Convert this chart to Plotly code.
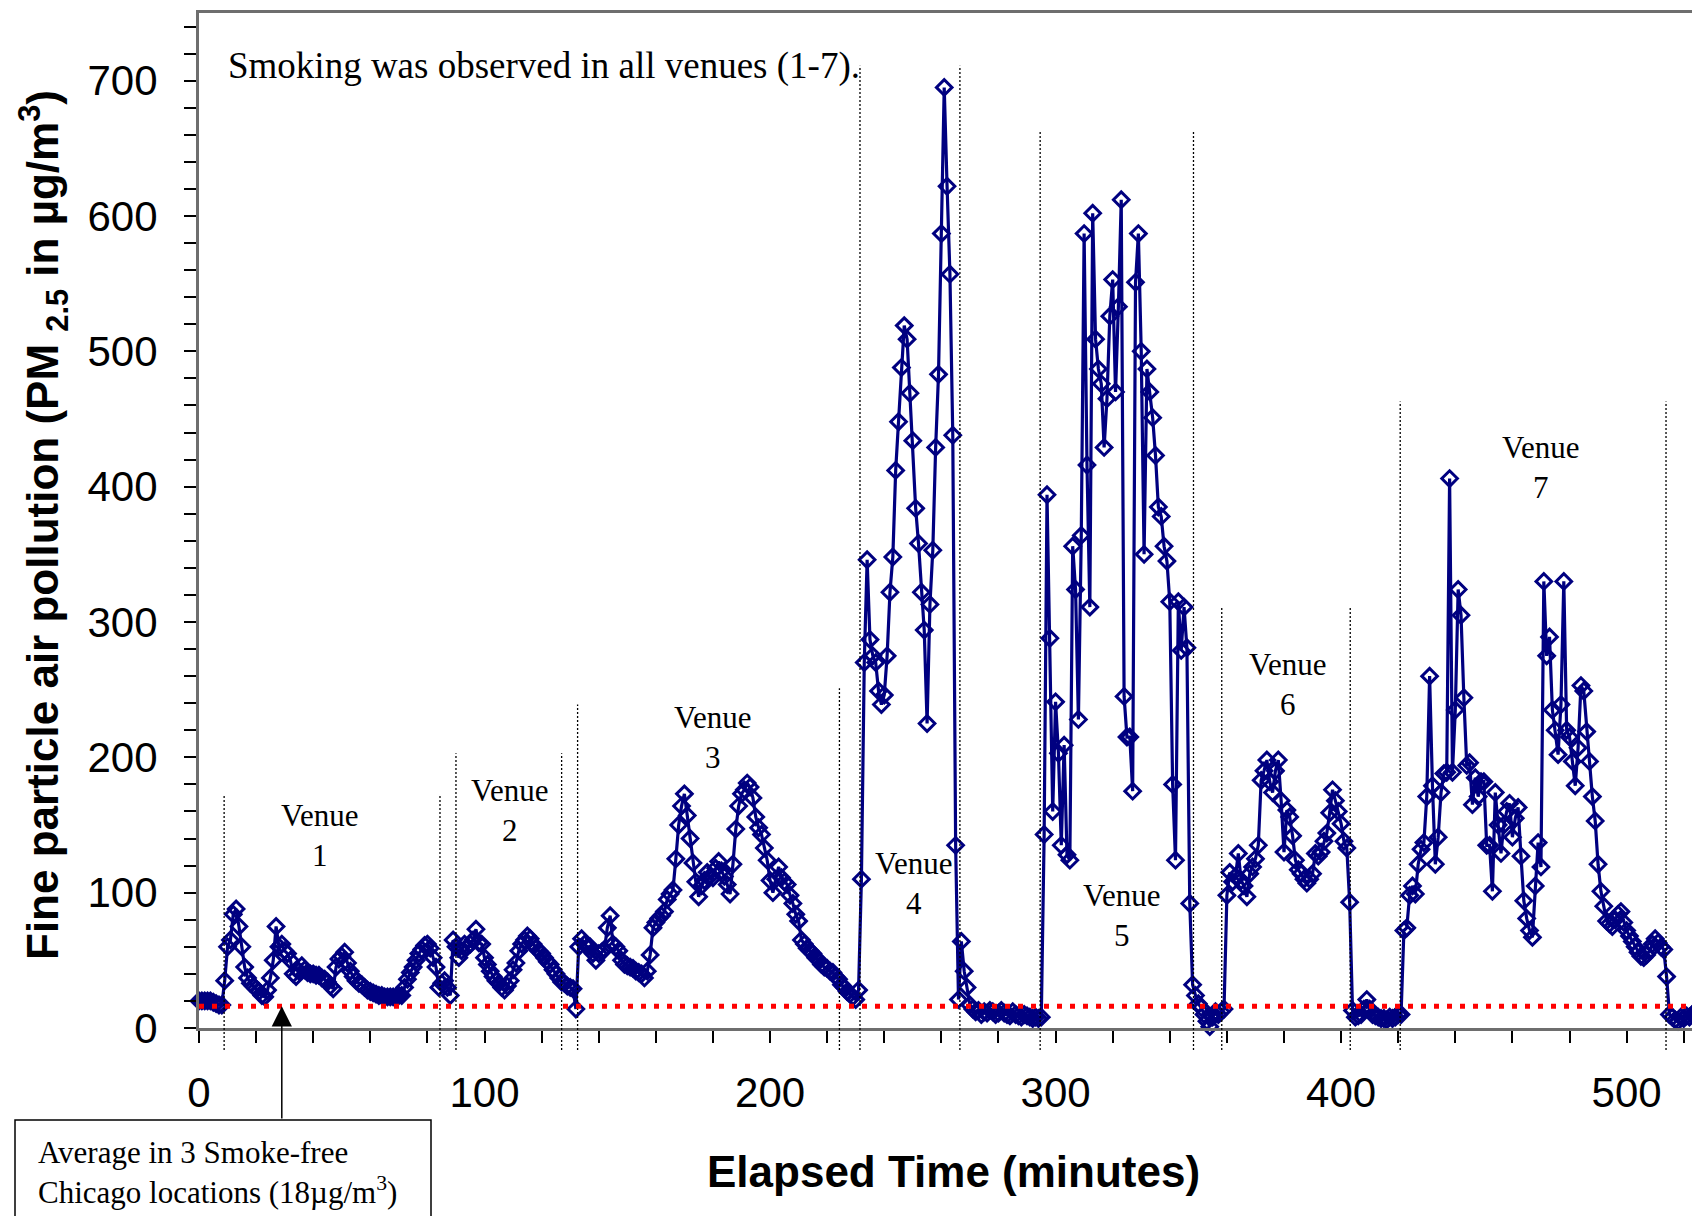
import plotly.graph_objects as go

# ---------------- data (PM2.5, one reading per minute) ----------------
pre_start = 0
pre_values = [20, 20, 20, 20, 20, 19, 18, 17, 17]

venue1_start = 9
venue1_values = [35, 60, 65, 84, 88, 75, 60, 45, 37, 33,
                 31, 29, 27, 24, 23, 28, 37, 50, 75, 60,
                 62, 57, 55, 50, 40, 38, 42, 46, 43, 41,
                 40, 40, 39, 39, 37, 36, 34, 31, 29, 45,
                 51, 53, 56, 48, 42, 38, 35, 33, 32, 30,
                 28, 27, 26, 25, 24, 24, 23, 23, 23, 23,
                 23, 24, 24, 30, 36, 41, 45, 50, 55, 58,
                 61, 62, 59, 52, 45, 30, 33, 35, 30, 24]

venue2_start = 89
venue2_values = [65, 60, 52, 57, 62, 60, 62, 65, 73, 63,
                 62, 52, 47, 42, 38, 35, 33, 30, 28, 31,
                 35, 43, 48, 57, 62, 65, 68, 66, 62, 59,
                 57, 55, 52, 49, 47, 43, 40, 37, 34, 33,
                 31, 30, 29]

venue3_start = 132
venue3_values = [14, 60, 66, 62, 60, 60, 55, 50, 55, 56,
                 58, 74, 83, 62, 60, 57, 50, 47, 46, 45,
                 44, 42, 41, 40, 37, 42, 54, 74, 78, 81,
                 83, 86, 95, 99, 102, 125, 150, 164, 173, 157,
                 140, 122, 108, 97, 105, 109, 115, 112, 111, 118,
                 123, 116, 112, 106, 99, 121, 147, 164, 173, 176,
                 181, 178, 170, 156, 148, 143, 133, 124, 109, 100,
                 110, 119, 111, 108, 106, 98, 92, 84, 79, 65,
                 62, 59, 57, 55, 52, 50, 47, 45, 44, 42,
                 41, 38, 36, 32, 30, 27, 25, 23, 21, 28]

venue4_start = 232
venue4_values = [110, 270, 346, 287, 275, 270, 249, 239, 246, 275,
                 322, 348, 412, 448, 488, 519, 509, 469, 434, 384,
                 358, 322, 294, 225, 313, 353, 429, 483, 587, 695,
                 622, 557, 438, 135, 21, 64, 42, 30]

gap4_start = 270
gap4_values = [17, 14, 12, 13, 10, 12, 11, 13, 12, 10,
               11, 13, 11, 10, 9, 12, 10, 9, 8, 10,
               9, 8, 7, 8, 7, 8]

venue5_start = 296
venue5_values = [143, 394, 288, 160, 241, 203, 135, 209, 128, 124,
                 356, 324, 228, 364, 587, 416, 311, 602, 509, 487,
                 476, 429, 465, 526, 553, 470, 533, 612, 245, 215,
                 215, 175, 551, 587, 500, 350, 487, 470, 451, 423,
                 385, 378, 356, 345, 315, 180, 124, 315, 279, 311,
                 281, 92, 32, 24, 18, 15, 10, 5, 1, 8,
                 12, 10, 12, 14]

venue6_start = 360
venue6_values = [98, 115, 108, 112, 129, 109, 105, 97, 114, 119,
                 125, 135, 183, 190, 198, 182, 174, 190, 198, 168,
                 130, 161, 156, 142, 124, 117, 114, 110, 107, 110,
                 114, 129, 127, 130, 138, 144, 159, 176, 168, 160,
                 151, 138, 133, 93, 13, 8, 9, 10, 14, 21,
                 14, 10, 9, 8, 7, 7, 6, 8, 7, 8,
                 10]

venue7_start = 421
venue7_values = [10, 72, 74, 98, 105, 99, 121, 132, 137, 171,
                 260, 179, 121, 141, 174, 188, 189, 406, 189, 235,
                 324, 305, 244, 194, 196, 165, 185, 171, 182, 182,
                 135, 135, 101, 174, 150, 129, 150, 160, 166, 141,
                 155, 163, 127, 94, 81, 72, 67, 105, 137, 119,
                 330, 275, 289, 235, 220, 202, 239, 330, 220, 215,
                 197, 179, 207, 253, 249, 219, 197, 171, 153, 121,
                 101, 90, 79, 77, 75, 80, 84, 86, 78, 72,
                 68, 64, 60, 56, 53, 52, 54, 57, 62, 66,
                 63, 60, 58, 38, 10, 8, 6, 5, 8, 7,
                 9, 8, 10, 12, 12]

smoke_free_avg_line = 16          # level where the red dotted reference line is drawn
arrow_minute = 29

# venue boundary lines: (minute, top of dotted line in µg/m3)
boundary_minutes = [8.8, 84.4, 90.0, 127.0, 132.6, 224.3, 231.5, 266.5,
                    294.6, 348.3, 358.2, 403.2, 420.7, 513.8]
boundary_tops = [172, 172, 203, 203, 239, 251, 711, 711,
                 663, 663, 311, 311, 463, 463]

# venue labels: number, minute, level
venue_numbers = ["1", "2", "3", "4", "5", "6", "7"]
venue_label_minutes = [42.2, 108.7, 179.8, 250.2, 323.2, 381.4, 470.0]
venue_label_levels = [142, 161, 215, 107, 83, 254, 414]

x_ticks = [0, 100, 200, 300, 400, 500]
y_ticks = [0, 100, 200, 300, 400, 500, 600, 700]

# ---------------- build series ----------------
segments = [(pre_start, pre_values), (venue1_start, venue1_values),
            (venue2_start, venue2_values), (venue3_start, venue3_values),
            (venue4_start, venue4_values), (gap4_start, gap4_values),
            (venue5_start, venue5_values), (venue6_start, venue6_values),
            (venue7_start, venue7_values)]
minutes, pm25 = [], []
for start, vals in segments:
    for i, v in enumerate(vals):
        minutes.append(start + i)
        pm25.append(v)

# ---------------- layout geometry ----------------
# the page body has an 8px margin, so the figure is drawn 8px smaller and
# every target pixel position (window coordinates) is shifted by that offset
OFF = 8
W, H = 1700 - OFF, 1216 - OFF
PL, PR, PT, PB = 199 - OFF, 1700 - OFF, 13 - OFF, 1028 - OFF
X_MAX = 525.7
Y_MAX = 750


def paper_x(px):
    return (px - OFF - PL) / (PR - PL)


def paper_y(py):
    return (PB - (py - OFF)) / (PB - PT)


NAVY = "#000080"
SERIF = "Liberation Serif, Times New Roman, serif"
SANS = "Liberation Sans, Arial, sans-serif"

fig = go.Figure()
fig.add_trace(go.Scatter(
    x=minutes, y=pm25, mode="lines+markers",
    line=dict(color=NAVY, width=3.2),
    marker=dict(symbol="diamond-open", size=12, color=NAVY, line=dict(width=3, color=NAVY)),
    showlegend=False, cliponaxis=False,
))

shapes = []
for t, top in zip(boundary_minutes, boundary_tops):
    shapes.append(dict(type="line", xref="x", yref="paper",
                       x0=t, x1=t, y0=paper_y(1050), y1=top / Y_MAX,
                       line=dict(color="black", width=1.3, dash="2px,2px"), layer="above"))
# red smoke-free average line
shapes.append(dict(type="line", xref="x", yref="y", x0=0, x1=X_MAX,
                   y0=smoke_free_avg_line, y1=smoke_free_avg_line,
                   line=dict(color="#ff0000", width=5, dash="5px,8px"), layer="above"))
# callout box
shapes.append(dict(type="rect", xref="paper", yref="paper",
                   x0=paper_x(15), x1=paper_x(431), y0=paper_y(1300), y1=paper_y(1120),
                   line=dict(color="black", width=1.5), fillcolor="white", layer="above"))

annotations = []
for num, t, lv in zip(venue_numbers, venue_label_minutes, venue_label_levels):
    annotations.append(dict(x=t, y=lv, xref="x", yref="y", text="Venue<br>" + num,
                            showarrow=False, font=dict(family=SERIF, size=31, color="black"),
                            xanchor="center", yanchor="middle", align="center"))
annotations.append(dict(x=9.5, y=711, xref="x", yref="y",
                        text="Smoking was observed in all venues (1-7).",
                        showarrow=False, font=dict(family=SERIF, size=37, color="black"),
                        xanchor="left", yanchor="middle"))
annotations.append(dict(x=paper_x(36), y=paper_y(1172), xref="paper", yref="paper",
                        text="Average in 3 Smoke-free<br>Chicago locations (18µg/m<sup>3</sup>)",
                        showarrow=False, font=dict(family=SERIF, size=31, color="black"),
                        xanchor="left", yanchor="middle", align="left"))
tip_py = PB - smoke_free_avg_line * (PB - PT) / Y_MAX + OFF
annotations.append(dict(x=arrow_minute, y=smoke_free_avg_line, xref="x", yref="y", text="",
                        showarrow=True, arrowhead=2, arrowsize=2.7, arrowwidth=1.5,
                        arrowcolor="black", ax=0, ay=1120 - tip_py, standoff=0))
# axis titles
annotations.append(dict(x=paper_x(43), y=paper_y(525), xref="paper", yref="paper",
                        text="<b>Fine particle air pollution (PM <sub>2.5</sub> in µg/m<sup>3</sup>)</b>",
                        textangle=-90, showarrow=False,
                        font=dict(family=SANS, size=44, color="black"),
                        xanchor="center", yanchor="middle"))
annotations.append(dict(x=paper_x(954), y=paper_y(1171), xref="paper", yref="paper",
                        text="<b>Elapsed Time (minutes)</b>", showarrow=False,
                        font=dict(family=SANS, size=44, color="black"),
                        xanchor="center", yanchor="middle"))

fig.update_layout(
    width=W, height=H,
    margin=dict(l=PL, r=W - PR, t=PT, b=H - PB, pad=0),
    paper_bgcolor="white", plot_bgcolor="white",
    shapes=shapes, annotations=annotations,
    xaxis=dict(range=[0, X_MAX], tickvals=x_ticks, ticks="outside", ticklen=12,
               tickwidth=1.5, tickcolor="black", showline=True, linecolor="#6e6e6e",
               linewidth=3, mirror=True, showgrid=False, zeroline=False,
               tickfont=dict(family=SANS, size=42, color="black"),
               ticklabelstandoff=14,
               minor=dict(dtick=20, ticks="outside", ticklen=12, tickwidth=1.5,
                          tickcolor="black", showgrid=False),
               automargin=False),
    yaxis=dict(range=[0, Y_MAX], tickvals=y_ticks, ticks="outside", ticklen=12,
               tickwidth=1.5, tickcolor="black", showline=True, linecolor="#6e6e6e",
               linewidth=3, showgrid=False, zeroline=False,
               tickfont=dict(family=SANS, size=42, color="black"),
               ticklabelstandoff=18,
               minor=dict(dtick=20, ticks="outside", ticklen=12, tickwidth=1.5,
                          tickcolor="black", showgrid=False),
               automargin=False),
)

fig.write_html("out.html")
